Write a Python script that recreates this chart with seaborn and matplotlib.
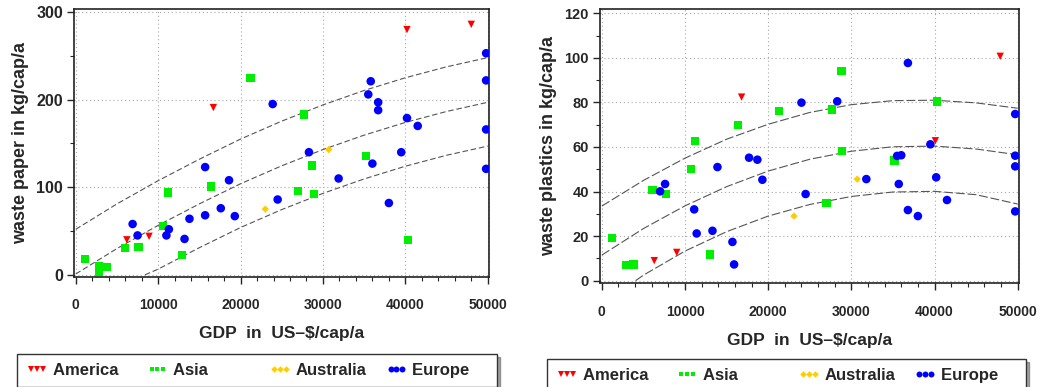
import numpy as np
import pandas as pd
import matplotlib
matplotlib.use("Agg")
import matplotlib.pyplot as plt
from matplotlib.lines import Line2D
from matplotlib.ticker import MultipleLocator
import seaborn as sns

# ---- data (same countries in both panels) ----
region = (["America"] * 5 + ["Australia"] * 2 + ["Asia"] * 17 + ["Europe"] * 28)

gdp_paper = [6200, 8900, 16700, 40200, 48000,
             23000, 30700,
             1100, 2800, 2800, 3800, 6000, 7600, 10600, 11200, 12900, 16400, 21200,
             27000, 27700, 28700, 28900, 35200, 40300,
             6900, 7500, 11000, 11300, 13200, 13800, 15700, 15700, 17600, 18600,
             19300, 23900, 24500, 28300, 31900, 35500, 35800, 36000, 36700, 36700,
             38000, 39500, 40200, 41500, 49800, 49800, 49800, 49800]
paper = [40, 44, 191, 280, 286,
         75, 143,
         18, 10, 3, 9, 31, 32, 56, 94, 23, 101, 225,
         96, 183, 125, 92, 136, 40,
         58, 45, 45, 52, 41, 64, 123, 68, 76, 108,
         67, 195, 86, 140, 110, 206, 221, 127, 197, 188,
         82, 140, 179, 170, 253, 222, 166, 121]

region_pl = (["America"] * 5 + ["Australia"] * 2 + ["Asia"] * 16 + ["Europe"] * 28)
gdp_plastics = [6300, 9000, 16800, 40100, 47900,
                23100, 30700,
                1200, 2900, 3800, 6100, 7700, 10700, 11200, 13000, 16400, 21300,
                27000, 27700, 28800, 28900, 35200, 40300,
                7000, 7600, 11100, 11400, 13300, 13900, 15700, 15900, 17700, 18700,
                19300, 24000, 24500, 28300, 31800, 35500, 36000, 35700, 36800, 36800,
                38000, 39500, 40200, 41500, 49700, 49700, 49700, 49700]
plastics = [9, 12.7, 82.4, 62.8, 100.7,
            29, 45.6,
            19.2, 6.9, 7.2, 40.6, 38.8, 50.1, 62.8, 11.7, 70, 76.3,
            34.9, 76.8, 94.1, 58.1, 53.9, 80.4,
            40.1, 43.4, 32, 21.2, 22.4, 51, 17.4, 7.3, 55.2, 54.3,
            45.3, 79.9, 38.9, 80.5, 45.6, 56, 56.3, 43.4, 97.7, 31.7,
            29, 61.2, 46.4, 36.2, 74.8, 56.1, 51.3, 31.1]

# fitted curve + band
curve_x = [0, 5000, 10000, 15000, 20000, 25000, 30000, 35000, 40000, 45000, 50000]
paper_mid = [1, 30, 56.5, 81, 104, 124.5, 143, 159.5, 174, 186.5, 197]
paper_up = [52, 81, 107.5, 132, 155, 175.5, 194, 210.5, 225, 237.5, 248]
paper_lo_x = [8400, 10000, 15000, 20000, 25000, 30000, 35000, 40000, 45000, 50000]
paper_lo = [0, 6.5, 31, 54, 74.5, 93, 109.5, 124, 136.5, 147]

plast_mid = [11.5, 23.4, 33.6, 42.2, 49.2, 54.5, 58.1, 60.1, 60.4, 59.1, 56.5]
plast_up = [33.5, 45, 55, 63.5, 70.2, 75.5, 79, 80.8, 81, 79.8, 77.4]
plast_lo_x = [4050, 5000, 10000, 15000, 20000, 25000, 30000, 35000, 40000, 45000, 50000]
plast_lo = [0, 2.5, 13.3, 22, 29, 34.2, 37.8, 39.8, 40.1, 38.6, 34.4]

order = ["America", "Asia", "Australia", "Europe"]
colors = {"America": "#ff0000", "Asia": "#00ee00", "Australia": "#ffcc00", "Europe": "#0000ff"}
markers = {"America": "v", "Asia": "s", "Australia": "D", "Europe": "o"}
sizes = {"America": 28, "Asia": 36, "Australia": 14, "Europe": 38}
leg_msize = {"America": 4.5, "Asia": 3.3, "Australia": 3.3, "Europe": 4.3}
# trailing spaces give the legend columns an even width like the original
legend_labels = ["America  ", "Asia         ", "Australia", "Europe    "]

df_paper = pd.DataFrame({"gdp": gdp_paper, "waste": paper, "region": region})
df_plast = pd.DataFrame({"gdp": gdp_plastics, "waste": plastics, "region": region_pl})

sns.set_style("ticks")
plt.rcParams["font.family"] = ["Liberation Sans", "DejaVu Sans"]
plt.rcParams["font.weight"] = "bold"

fig = plt.figure(figsize=(10.43, 3.87), dpi=100)
ax1 = fig.add_axes([0.0709, 0.2842, 0.398, 0.6925])
ax2 = fig.add_axes([0.5753, 0.2695, 0.4017, 0.7065])


def draw(ax, df, mid, up, lo_x, lo, ylim, ymajor, yminor, ylabel, dash, ysize, xpad):
    ax.grid(True, which="major", color="#a8a8a8", linestyle=(0, (1, 2.5)), linewidth=0.8)
    ax.set_axisbelow(True)
    for yy, xx in [(mid, curve_x), (up, curve_x), (lo, lo_x)]:
        ax.plot(xx, yy, color="#555555", linestyle=dash, linewidth=0.8, zorder=2)
    sns.scatterplot(data=df, x="gdp", y="waste", hue="region", style="region",
                    size="region", hue_order=order, style_order=order, size_order=order,
                    palette=colors, markers=markers, sizes=sizes,
                    linewidth=0, legend=False, ax=ax, zorder=3)
    ax.set_xlim(-220, 50160)
    ax.set_ylim(*ylim)
    ax.xaxis.set_major_locator(MultipleLocator(10000))
    ax.xaxis.set_minor_locator(MultipleLocator(2000))
    ax.yaxis.set_major_locator(MultipleLocator(ymajor))
    ax.yaxis.set_minor_locator(MultipleLocator(yminor))
    ax.tick_params(which="major", direction="out", length=5, width=1, pad=3)
    ax.tick_params(axis="x", which="major", pad=xpad, labelsize=10)
    ax.tick_params(axis="y", which="major", labelsize=ysize)
    ax.tick_params(which="minor", direction="out", length=3, width=0.8)
    for s in ax.spines.values():
        s.set_color("#222222")
        s.set_linewidth(1.2)
    for lab in ax.get_xticklabels() + ax.get_yticklabels():
        lab.set_fontweight("bold")
    ax.set_xlabel("GDP  in  US\u2013$/cap/a", fontsize=12.5, fontweight="bold", labelpad=10)
    ax.set_ylabel(ylabel, fontsize=13, fontweight="bold", labelpad=5)


draw(ax1, df_paper, paper_mid, paper_up, paper_lo_x, paper_lo, (-2.5, 303.5), 100, 50,
     "waste paper in kg/cap/a", (0, (5, 2.5)), 11.5, 10)
draw(ax2, df_plast, plast_mid, plast_up, plast_lo_x, plast_lo, (-0.9, 121.8), 20, 10,
     "waste plastics in kg/cap/a", (0, (8, 2.5)), 10.5, 11)

handles = [Line2D([], [], marker=markers[r], color=colors[r], linestyle="None",
                  markersize=leg_msize[r], markeredgewidth=0)
           for r in order]

for bbox in [(0.0163, 0.0853, 0.4603, 0.0), (0.5245, 0.0724, 0.459, 0.0)]:
    leg = fig.legend(handles, legend_labels, loc="upper left", bbox_to_anchor=bbox,
                     mode="expand", ncol=4, numpoints=3, handlelength=1.3,
                     handletextpad=0.3, borderpad=0.55, borderaxespad=0.0,
                     frameon=True, fancybox=False, shadow=True,
                     prop={"size": 12, "weight": "bold"})
    leg.get_frame().set_edgecolor("#333333")
    leg.get_frame().set_linewidth(1.0)

fig.savefig("out.png", dpi=100)
